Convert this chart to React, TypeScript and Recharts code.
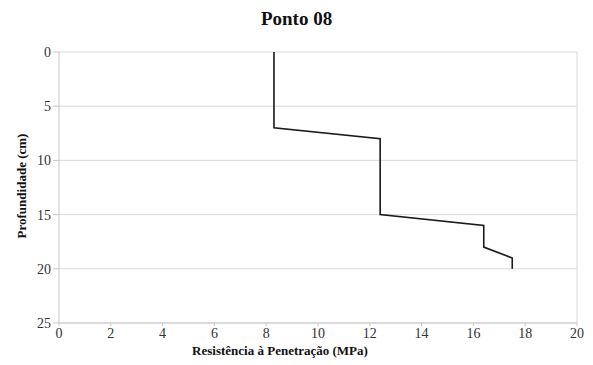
import { LineChart, Line, XAxis, YAxis, CartesianGrid, ReferenceLine } from 'recharts';

// resistência (MPa) vs profundidade (cm)
const resistance = [8.3, 8.3, 12.4, 12.4, 16.4, 16.4, 17.5, 17.5];
const depth = [0, 7, 8, 15, 16, 18, 19, 20];
const xTicks = [0, 2, 4, 6, 8, 10, 12, 14, 16, 18, 20];
const yTicks = [0, 5, 10, 15, 20, 25];

const data = resistance.map((r, i) => ({ r, d: depth[i] }));

const font = '"Liberation Serif", "Times New Roman", serif';

export default function App() {
    return (
        <div style={{ position: 'absolute', left: 0, top: 0, width: 593, height: 365, background: '#fff', fontFamily: font }}>
            <style>{`.recharts-wrapper text, .recharts-wrapper tspan { font-family: 'Liberation Serif', serif !important; }`}</style>
            <div style={{ position: 'absolute', left: 0, top: 8, width: 593, textAlign: 'center', fontSize: 19, fontWeight: 'bold', color: '#111' }}>
                Ponto 08
            </div>
            <LineChart
                width={593}
                height={365}
                data={data}
                margin={{ top: 52, right: 16, bottom: 20, left: 29 }}
            >
                <CartesianGrid vertical={false} stroke="#d9d9d9" />
                <ReferenceLine x={20} stroke="#d9d9d9" />
                <XAxis
                    type="number"
                    dataKey="r"
                    domain={[0, 20]}
                    ticks={xTicks}
                    interval={0}
                    axisLine={{ stroke: '#c8c8c8' }}
                    tickLine={{ stroke: '#c8c8c8' }}
                    tickSize={3}
                    tick={{ fill: '#333', fontSize: 14 }}
                    height={22}
                />
                <YAxis
                    type="number"
                    dataKey="d"
                    reversed
                    domain={[0, 25]}
                    ticks={yTicks}
                    interval={0}
                    axisLine={{ stroke: '#c8c8c8' }}
                    tickLine={{ stroke: '#c8c8c8' }}
                    tickSize={6}
                    tick={{ fill: '#333', fontSize: 14 }}
                    width={30}
                />
                <Line
                    type="linear"
                    dataKey="d"
                    stroke="#1a1a1a"
                    strokeWidth={1.6}
                    dot={false}
                    isAnimationActive={false}
                />
            </LineChart>
            <div style={{ position: 'absolute', left: 180, top: 343, width: 200, textAlign: 'center', fontSize: 13, fontWeight: 'bold', color: '#111', whiteSpace: 'nowrap' }}>
                Resistência à Penetração (MPa)
            </div>
            <div style={{ position: 'absolute', left: 22, top: 187, width: 0, height: 0 }}>
                <div style={{ position: 'absolute', left: -70, top: -9, width: 140, textAlign: 'center', fontSize: 13, fontWeight: 'bold', color: '#111', whiteSpace: 'nowrap', transform: 'rotate(-90deg)' }}>
                    Profundidade (cm)
                </div>
            </div>
        </div>
    );
}
